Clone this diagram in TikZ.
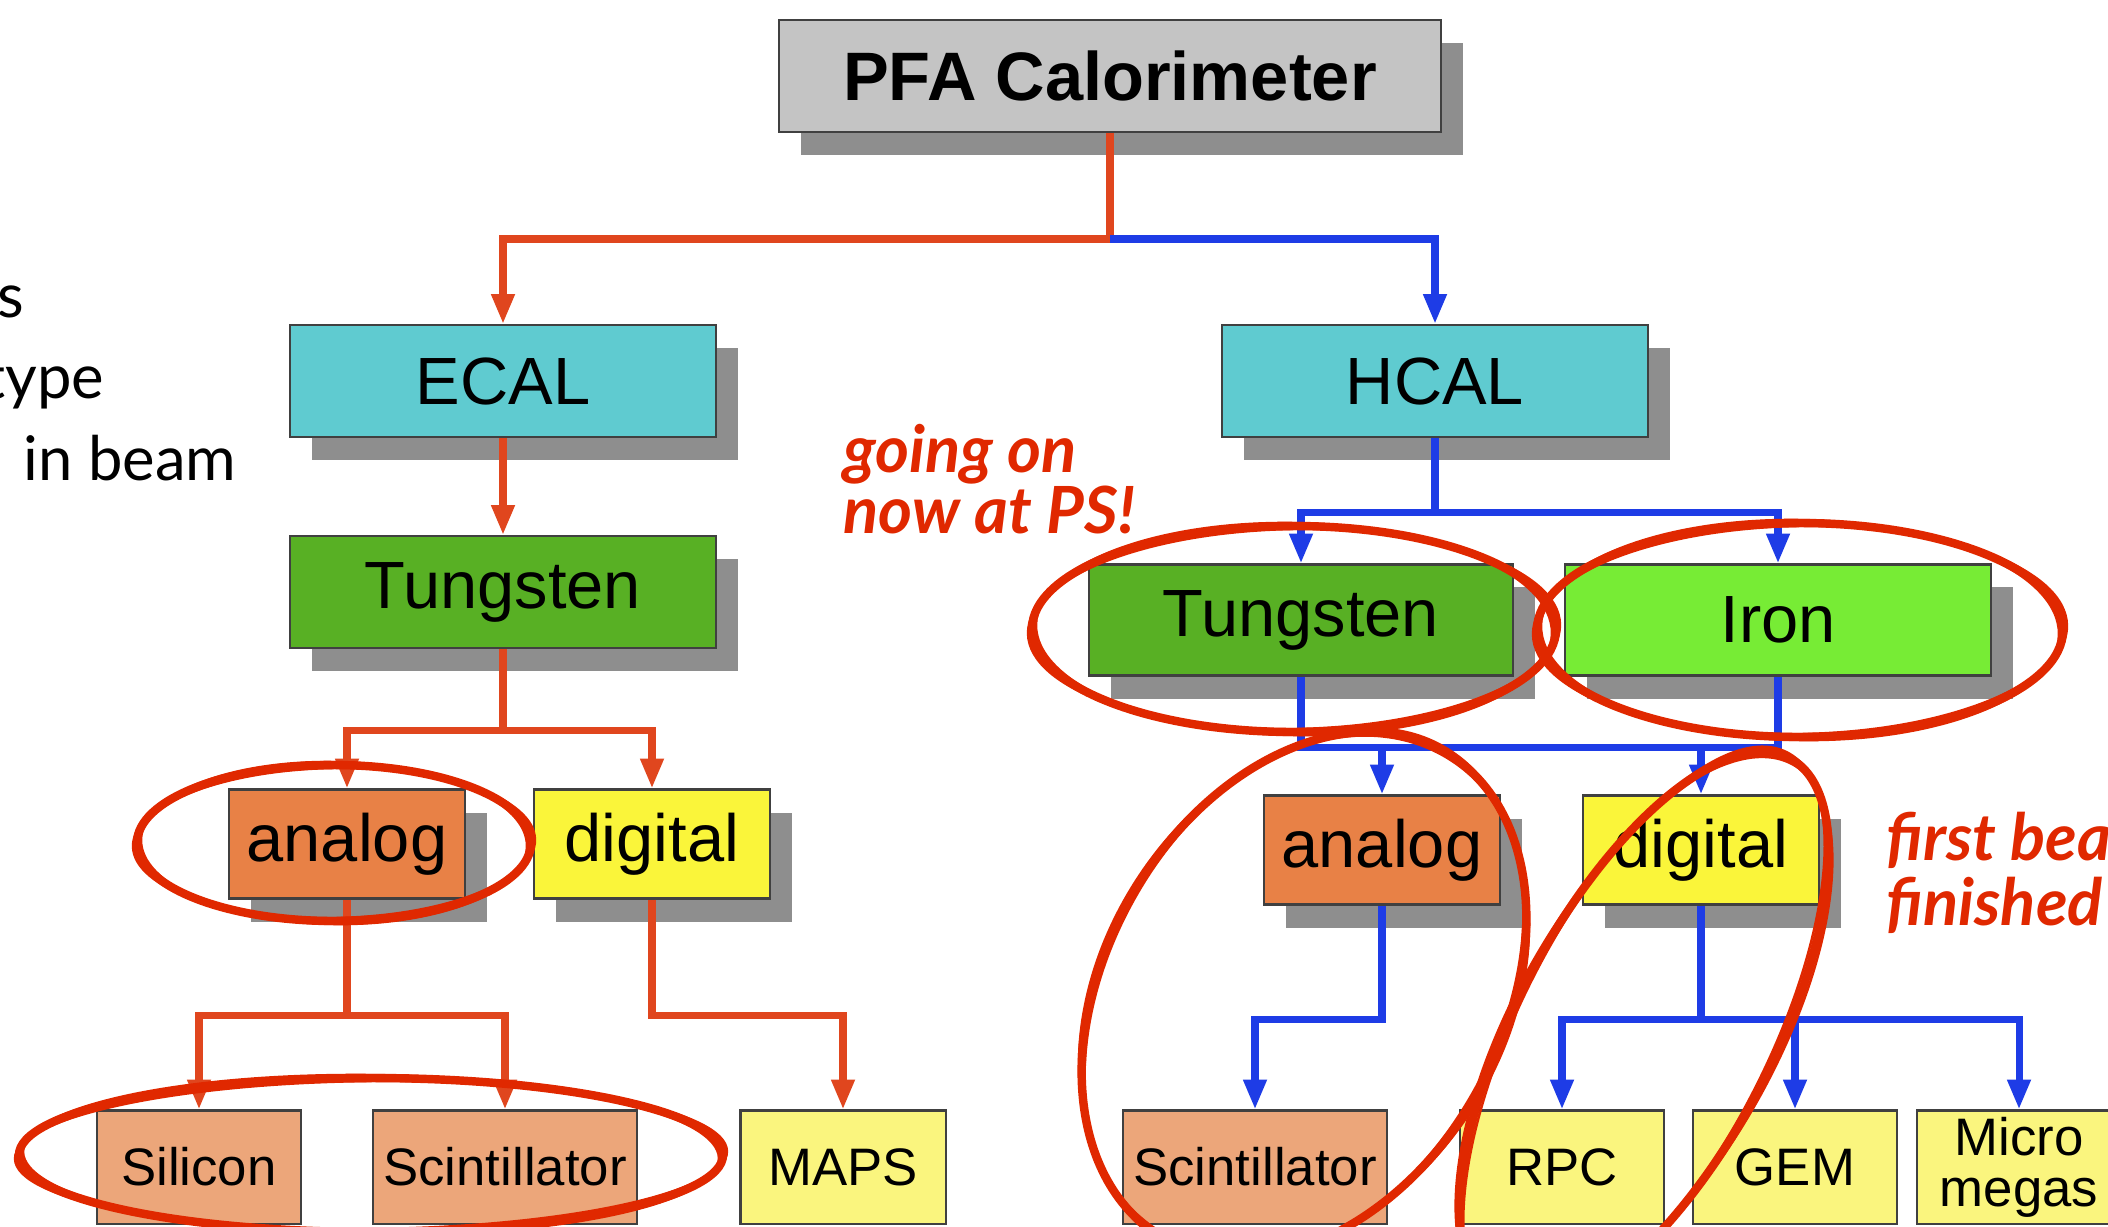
\documentclass[tikz,border=0pt]{standalone}
\usepackage{fontspec}
\setmainfont{Liberation Sans}
\newfontfamily\gill{Lato}
\usetikzlibrary{arrows.meta,shadows}
\definecolor{topgray}{HTML}{C4C4C4}
\definecolor{calcyan}{HTML}{5FCBD0}
\definecolor{tungreen}{HTML}{58B024}
\definecolor{irongreen}{HTML}{77EC35}
\definecolor{anaorange}{HTML}{E88146}
\definecolor{digyellow}{HTML}{FAF53A}
\definecolor{leaforange}{HTML}{ECA67A}
\definecolor{leafyellow}{HTML}{FAF57E}
\definecolor{shadowgray}{HTML}{8E8E8E}
\definecolor{linkred}{HTML}{E0461E}
\definecolor{linkblue}{HTML}{1E3CE6}
\definecolor{inkred}{HTML}{E02800}

\begin{document}
\begin{tikzpicture}[x=0.01cm,y=-0.01cm]
\tikzstyle{every node}+=[inner sep=0pt]
\tikzstyle{box}=[draw=black!75,line width=0.6pt,font=\fontsize{19}{23}\selectfont]
\tikzstyle{shbox}=[box,drop shadow={shadow xshift=0.22cm,shadow yshift=-0.23cm,fill=shadowgray,opacity=1}]
\tikzstyle{wide}=[shbox,minimum width=4.25cm,minimum height=1.12cm]
\tikzstyle{mid}=[shbox,minimum width=2.36cm,minimum height=1.09cm]
\tikzstyle{leaf}=[box,minimum width=2.04cm,minimum height=1.13cm,align=center,font=\fontsize{15}{14.5}\selectfont]
\tikzstyle{headed}=[-{Triangle[length=8.5pt,width=6.3pt]}]
\tikzstyle{redline}=[draw=linkred,line width=2pt]
\tikzstyle{blueline}=[draw=linkblue,line width=2pt]
\tikzstyle{scribble}=[draw=inkred,line width=2.4pt]
\tikzstyle{thinscribble}=[draw=inkred,line width=0.7pt]
\tikzstyle{note}=[text=inkred,font=\gill\bfseries\itshape\fontsize{18.5}{22}\selectfont]
\tikzstyle{side}=[text=black,font=\gill\fontsize{17.5}{21}\selectfont]
\useasboundingbox (0,0) rectangle (2108,1226);
\clip (0,0) rectangle (2108,1226);
\node [shbox,fill=topgray,minimum width=6.61cm,minimum height=1.12cm,font=\bfseries\fontsize{19.5}{23}\selectfont] (pfa) at (1110,76) {PFA Calorimeter};
\node [wide,fill=calcyan] (ecal) at (503,381) {ECAL};
\node [wide,fill=calcyan] (hcal) at (1435,381) {HCAL};
\node [wide,fill=tungreen] (ecalW) at (503,592) {Tungsten};
\node [wide,fill=tungreen,minimum width=4.23cm,minimum height=1.11cm] (hcalW) at (1301,620) {Tungsten};
\node [wide,fill=irongreen,minimum height=1.11cm] (iron) at (1778,620) {Iron};
\node [mid,fill=anaorange] (anaL) at (347,844) {analog};
\node [mid,fill=digyellow] (digL) at (652,844) {digital};
\node [mid,fill=anaorange] (anaR) at (1382,850) {analog};
\node [mid,fill=digyellow] (digR) at (1701,850) {digital};
\node [leaf,fill=leaforange] (sil) at (199,1167) {Silicon};
\node [leaf,fill=leaforange,minimum width=2.63cm] (scintL) at (505,1167) {Scintillator};
\node [leaf,fill=leafyellow,minimum width=2.05cm] (maps) at (843,1167) {MAPS};
\node [leaf,fill=leaforange,minimum width=2.64cm] (scintR) at (1255,1167) {Scintillator};
\node [leaf,fill=leafyellow] (rpc) at (1562,1167) {RPC};
\node [leaf,fill=leafyellow] (gem) at (1795,1167) {GEM};
\node [leaf,fill=leafyellow] (micro) at (2019,1167) {Micro\\megas};
\coordinate (topSplit) at (1110,239);
\coordinate (ecalSplit) at (503,730);
\coordinate (anaLSplit) at (347,1015);
\coordinate (digLBend) at (652,1015);
\coordinate (hcalSplit) at (1435,512);
\coordinate (mergeL) at (1301,747);
\coordinate (mergeR) at (1778,747);
\coordinate (anaRBend) at (1382,1019);
\coordinate (digRSplit) at (1701,1019);
\draw [redline] (pfa.south) -- (topSplit);
\draw [redline,headed] (topSplit) -| (ecal.north);
\draw [blueline,headed] (topSplit) -| (hcal.north);
\draw [redline,headed] (ecal.south) -- (ecalW.north);
\draw [redline] (ecalW.south) -- (ecalSplit);
\draw [redline,headed] (ecalSplit) -| (anaL.north);
\draw [redline,headed] (ecalSplit) -| (digL.north);
\draw [redline] (anaL.south) -- (anaLSplit);
\draw [redline,headed] (anaLSplit) -| (sil.north);
\draw [redline,headed] (anaLSplit) -| (scintL.north);
\draw [redline,headed] (digL.south) -- (digLBend) -| (maps.north);
\draw [blueline] (hcal.south) -- (hcalSplit);
\draw [blueline,headed] (hcalSplit) -| (hcalW.north);
\draw [blueline,headed] (hcalSplit) -| (iron.north);
\draw [blueline] (hcalW.south) -- (mergeL) -- (mergeR) -- (iron.south);
\draw [blueline,headed] (mergeL -| anaR.north) -- (anaR.north);
\draw [blueline,headed] (mergeL -| digR.north) -- (digR.north);
\draw [blueline,headed] (anaR.south) -- (anaRBend) -| (scintR.north);
\draw [blueline] (digR.south) -- (digRSplit);
\draw [blueline,headed] (digRSplit) -| (rpc.north);
\draw [blueline,headed] (digRSplit) -| (gem.north);
\draw [blueline,headed] (digRSplit) -| (micro.north);
\node [side,anchor=base east] (lineS) at (25,317) {s};
\node [side,anchor=base east] (lineType) at (105,398) {type};
\node [side,anchor=base east] (lineBeam) at (237,480) {in beam};
\node [note,anchor=base west] (going) at (843,472) {going on};
\node [note,anchor=base west] (nowPS) at (843,533) {now at PS!};
\node [note,anchor=base west] (firstBeam) at (1886,860) {first bea};
\node [note,anchor=base west] (finished) at (1886,925) {finished};
\draw [scribble] (334,843) circle [x radius=197, y radius=78];
\draw [thinscribble] (334,843) circle [x radius=201, y radius=75, rotate=1];
\draw [thinscribble] (334,843) circle [x radius=193, y radius=81, rotate=-1];
\draw [scribble] (371,1155) circle [x radius=352, y radius=77];
\draw [thinscribble] (371,1155) circle [x radius=356, y radius=74, rotate=0.6];
\draw [thinscribble] (371,1155) circle [x radius=348, y radius=80, rotate=-0.6];
\draw [scribble] (1294,629) circle [x radius=262, y radius=103];
\draw [thinscribble] (1294,629) circle [x radius=266, y radius=100, rotate=1];
\draw [thinscribble] (1294,629) circle [x radius=258, y radius=106, rotate=-1];
\draw [scribble] (1800,630) circle [x radius=263, y radius=107];
\draw [thinscribble] (1800,630) circle [x radius=267, y radius=104, rotate=1];
\draw [thinscribble] (1800,630) circle [x radius=259, y radius=110, rotate=-1];
\draw [scribble] (1304,995) circle [x radius=199, y radius=281, rotate=-30];
\draw [thinscribble] (1304,995) circle [x radius=195, y radius=285, rotate=-29];
\draw [thinscribble] (1304,995) circle [x radius=203, y radius=277, rotate=-31];
\draw [scribble] (1644,1033) circle [x radius=128, y radius=311, rotate=-28];
\draw [thinscribble] (1644,1033) circle [x radius=124, y radius=315, rotate=-27];
\draw [thinscribble] (1644,1033) circle [x radius=132, y radius=307, rotate=-29];
\end{tikzpicture}
\end{document}
